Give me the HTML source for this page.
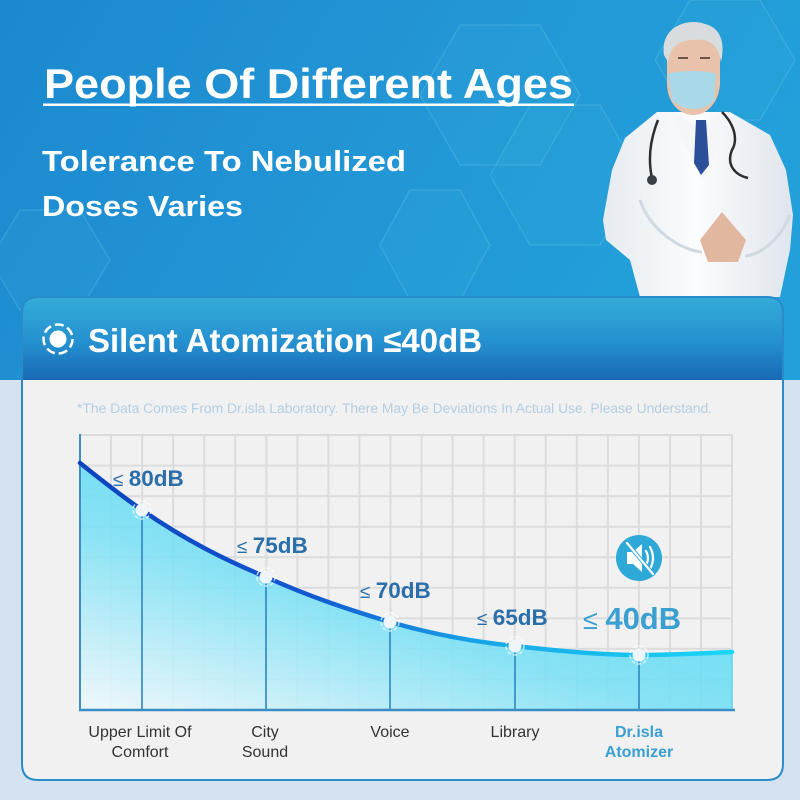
<!DOCTYPE html>
<html><head><meta charset="utf-8"><style>
html,body{margin:0;padding:0;width:800px;height:800px;overflow:hidden;background:#d4e3ef}
svg{display:block}
text{font-family:"Liberation Sans",Arial,sans-serif}
</style></head><body>
<svg width="800" height="800" viewBox="0 0 800 800" xmlns="http://www.w3.org/2000/svg">
<defs>
<linearGradient id="bg" x1="0" y1="0" x2="1" y2="0.3">
<stop offset="0" stop-color="#1b88cf"/><stop offset="0.55" stop-color="#2396d5"/><stop offset="1" stop-color="#22a0da"/>
</linearGradient>
<linearGradient id="hdr" x1="0" y1="0" x2="0" y2="1">
<stop offset="0" stop-color="#33abda"/><stop offset="0.55" stop-color="#2590d0"/><stop offset="1" stop-color="#1869b4"/>
</linearGradient>
<linearGradient id="fillg" x1="0.75" y1="0.15" x2="0.05" y2="1">
<stop offset="0" stop-color="#4fd6f3"/><stop offset="0.5" stop-color="#78e0f5"/><stop offset="1" stop-color="#eaf7fc"/>
</linearGradient>
<linearGradient id="strokeg" x1="80" y1="0" x2="732" y2="0" gradientUnits="userSpaceOnUse">
<stop offset="0" stop-color="#0b43bd"/><stop offset="0.35" stop-color="#1258d2"/><stop offset="0.62" stop-color="#17a6e8"/><stop offset="1" stop-color="#1ad6f7"/>
</linearGradient>
<linearGradient id="coat" x1="0" y1="0" x2="1" y2="0">
<stop offset="0" stop-color="#e6ebf0"/><stop offset="0.5" stop-color="#fbfcfd"/><stop offset="1" stop-color="#dfe5ec"/>
</linearGradient>
</defs>

<!-- background -->
<rect x="0" y="0" width="800" height="380" fill="url(#bg)"/>
<rect x="0" y="380" width="800" height="420" fill="#d4e3ef"/>
<g fill="#3fb3e2" fill-opacity="0.12" stroke="#6fd0f0" stroke-opacity="0.25" stroke-width="1.5">
<polygon points="460,25 540,25 580,95 540,165 460,165 420,95"/>
<polygon points="530,105 600,105 640,175 600,245 530,245 490,175"/>
<polygon points="410,190 460,190 490,245 460,300 410,300 380,245"/>
<polygon points="690,0 760,0 795,60 760,120 690,120 655,60"/>
<polygon points="20,210 80,210 110,260 80,310 20,310 -10,260"/>
</g>

<!-- doctor (simplified) -->
<g>
<path d="M657,112 L730,112 L770,135 L786,170 L793,215 L790,250 L780,297 L640,297 L630,260 L606,240 L603,220 L612,170 L625,138 Z" fill="url(#coat)"/>
<path d="M672,112 L700,128 L722,112 L728,125 L702,180 L676,125 Z" fill="#f4f6f8"/>
<path d="M696,120 L706,120 L709,165 L701,175 L694,163 Z" fill="#2b4f98"/>
<path d="M658,120 C650,140 648,160 652,178" stroke="#2a2e33" stroke-width="2.5" fill="none"/>
<circle cx="652" cy="180" r="5" fill="#3a3f45"/>
<path d="M722,112 C735,125 738,140 732,150 C726,165 735,175 748,178" stroke="#2a2e33" stroke-width="2.5" fill="none"/>
<path d="M640,200 C650,230 680,250 702,252 M790,215 C780,240 760,255 745,256" stroke="#d0d8e0" stroke-width="3" fill="none"/>
<path d="M700,240 L722,212 L746,240 L738,262 L708,262 Z" fill="#e2b7a0"/>
<path d="M667,40 C667,20 715,18 720,42 L720,85 C718,105 705,115 694,115 C680,115 668,104 667,85 Z" fill="#e8c2aa"/>
<path d="M664,55 C660,25 690,18 705,24 C722,28 725,45 721,62 C718,45 710,38 694,40 C680,40 670,46 668,62 Z" fill="#d9dcdf"/>
<path d="M668,74 C680,70 708,70 716,74 L714,100 C705,112 684,112 672,100 Z" fill="#a9d8e8"/>
<path d="M678,58 L688,58 M700,58 L710,58" stroke="#6b5446" stroke-width="2"/>
</g>

<!-- titles -->
<text x="44" y="98" font-size="42" font-weight="bold" fill="#ffffff" textLength="529" lengthAdjust="spacingAndGlyphs">People Of Different Ages</text>
<rect x="43" y="103.5" width="531" height="2.5" fill="#ffffff"/>
<text x="42" y="171" font-size="29" font-weight="bold" fill="#ffffff" textLength="364" lengthAdjust="spacingAndGlyphs">Tolerance To Nebulized</text>
<text x="42" y="216" font-size="29" font-weight="bold" fill="#ffffff" textLength="201" lengthAdjust="spacingAndGlyphs">Doses Varies</text>

<!-- card -->
<path d="M22,380 L22,313 Q22,297 38,297 L767,297 Q783,297 783,313 L783,380 Z" fill="url(#hdr)"/>
<path d="M22,380 L22,764 Q22,780 38,780 L767,780 Q783,780 783,764 L783,380 Z" fill="#f1f1f1"/>
<path d="M22,313 Q22,297 38,297 L767,297 Q783,297 783,313 L783,764 Q783,780 767,780 L38,780 Q22,780 22,764 Z" fill="none" stroke="#2a8bcb" stroke-width="2"/>

<!-- header -->
<circle cx="58" cy="339" r="14.5" fill="none" stroke="#ffffff" stroke-width="2.5" stroke-dasharray="9 4"/>
<circle cx="58" cy="339" r="8.5" fill="#ffffff"/>
<text x="88" y="352" font-size="33" font-weight="bold" fill="#ffffff" textLength="394" lengthAdjust="spacingAndGlyphs">Silent Atomization ≤40dB</text>

<text x="77" y="413" font-size="13.5" fill="#b3cde2" textLength="635" lengthAdjust="spacingAndGlyphs">*The Data Comes From Dr.isla Laboratory. There May Be Deviations In Actual Use. Please Understand.</text>

<!-- grid -->
<g stroke="#dcdcdc" stroke-width="2">
<line x1="111.05" y1="435" x2="111.05" y2="710"/><line x1="142.1" y1="435" x2="142.1" y2="710"/><line x1="173.15" y1="435" x2="173.15" y2="710"/><line x1="204.2" y1="435" x2="204.2" y2="710"/><line x1="235.25" y1="435" x2="235.25" y2="710"/><line x1="266.3" y1="435" x2="266.3" y2="710"/><line x1="297.35" y1="435" x2="297.35" y2="710"/><line x1="328.4" y1="435" x2="328.4" y2="710"/><line x1="359.45" y1="435" x2="359.45" y2="710"/><line x1="390.5" y1="435" x2="390.5" y2="710"/><line x1="421.55" y1="435" x2="421.55" y2="710"/><line x1="452.6" y1="435" x2="452.6" y2="710"/><line x1="483.65" y1="435" x2="483.65" y2="710"/><line x1="514.7" y1="435" x2="514.7" y2="710"/><line x1="545.75" y1="435" x2="545.75" y2="710"/><line x1="576.8" y1="435" x2="576.8" y2="710"/><line x1="607.85" y1="435" x2="607.85" y2="710"/><line x1="638.9" y1="435" x2="638.9" y2="710"/><line x1="669.95" y1="435" x2="669.95" y2="710"/><line x1="701" y1="435" x2="701" y2="710"/><line x1="732" y1="435" x2="732" y2="710"/>
<line x1="80" y1="435" x2="733" y2="435"/><line x1="80" y1="465.6" x2="733" y2="465.6"/><line x1="80" y1="496.1" x2="733" y2="496.1"/><line x1="80" y1="526.7" x2="733" y2="526.7"/><line x1="80" y1="557.2" x2="733" y2="557.2"/><line x1="80" y1="587.8" x2="733" y2="587.8"/><line x1="80" y1="618.4" x2="733" y2="618.4"/><line x1="80" y1="648.9" x2="733" y2="648.9"/><line x1="80" y1="679.5" x2="733" y2="679.5"/>
</g>

<!-- area fill -->
<path d="M80,463 C100,479 120,495 142,510 C185,540 225,560 266,577 C310,597 350,610 390,622 C435,635 475,642 515,646 C560,651 600,655 639,655 C675,655 705,653 732,652 L732,710 L80,710 Z" fill="url(#fillg)" fill-opacity="0.88"/>

<!-- drop lines -->
<g stroke="#2f86c2" stroke-width="1.6">
<line x1="142" y1="512" x2="142" y2="710"/><line x1="266" y1="579" x2="266" y2="710"/><line x1="390" y1="624" x2="390" y2="710"/><line x1="515" y1="648" x2="515" y2="710"/><line x1="639" y1="657" x2="639" y2="710"/>
</g>

<!-- axes -->
<line x1="80" y1="434" x2="80" y2="711" stroke="#3b8ec6" stroke-width="2"/>
<line x1="79" y1="710" x2="735" y2="710" stroke="#3a8cc4" stroke-width="2.5"/>
<line x1="732" y1="652" x2="732" y2="709" stroke="#5fd6f2" stroke-width="1.5"/>

<!-- curve -->
<path d="M80,463 C100,479 120,495 142,510 C185,540 225,560 266,577 C310,597 350,610 390,622 C435,635 475,642 515,646 C560,651 600,655 639,655 C675,655 705,653 732,652" fill="none" stroke="url(#strokeg)" stroke-width="4.5" stroke-linecap="round"/>

<!-- markers -->
<g>
<circle cx="142" cy="510" r="9" fill="none" stroke="#ffffff" stroke-opacity="0.7" stroke-width="1.5" stroke-dasharray="4 2"/>
<circle cx="142" cy="510" r="6.5" fill="#eef6fb"/>
<circle cx="266" cy="577" r="9" fill="none" stroke="#ffffff" stroke-opacity="0.7" stroke-width="1.5" stroke-dasharray="4 2"/>
<circle cx="266" cy="577" r="6.5" fill="#eef6fb"/>
<circle cx="390" cy="622" r="9" fill="none" stroke="#ffffff" stroke-opacity="0.7" stroke-width="1.5" stroke-dasharray="4 2"/>
<circle cx="390" cy="622" r="6.5" fill="#eef6fb"/>
<circle cx="515" cy="646" r="9" fill="none" stroke="#ffffff" stroke-opacity="0.7" stroke-width="1.5" stroke-dasharray="4 2"/>
<circle cx="515" cy="646" r="6.5" fill="#eef6fb"/>
<circle cx="639" cy="655" r="9" fill="none" stroke="#ffffff" stroke-opacity="0.7" stroke-width="1.5" stroke-dasharray="4 2"/>
<circle cx="639" cy="655" r="6.5" fill="#eef6fb"/>
</g>

<!-- value labels -->
<g fill="#2a6eaa" font-weight="bold" font-size="22.5">
<text x="113" y="486"><tspan font-weight="normal" font-size="19">≤ </tspan><tspan>80dB</tspan></text>
<text x="237" y="553"><tspan font-weight="normal" font-size="19">≤ </tspan><tspan>75dB</tspan></text>
<text x="360" y="598"><tspan font-weight="normal" font-size="19">≤ </tspan><tspan>70dB</tspan></text>
<text x="477" y="625"><tspan font-weight="normal" font-size="19">≤ </tspan><tspan>65dB</tspan></text>
</g>
<text x="583" y="629" fill="#3a9fd1" font-weight="bold" font-size="31"><tspan font-weight="normal" font-size="27">≤ </tspan><tspan>40dB</tspan></text>

<!-- mute icon -->
<circle cx="639" cy="558" r="23" fill="#2ea8d6"/>
<g fill="#ffffff" stroke="none">
<rect x="627" y="552" width="6" height="12"/>
<polygon points="633,552 642,544 642,572 633,564"/>
</g>
<g fill="none" stroke="#ffffff" stroke-width="2.2" stroke-linecap="round">
<path d="M646,551 Q650,558 646,565"/>
<path d="M650,547 Q656,558 650,569"/>
<line x1="627" y1="543" x2="653" y2="574" stroke="#2ea8d6" stroke-width="4"/>
<line x1="627" y1="543" x2="653" y2="574"/>
</g>

<!-- x labels -->
<g font-size="16" fill="#333333" text-anchor="middle">
<text x="140" y="737">Upper Limit Of</text>
<text x="140" y="757">Comfort</text>
<text x="265" y="737">City</text>
<text x="265" y="757">Sound</text>
<text x="390" y="737">Voice</text>
<text x="515" y="737">Library</text>
</g>
<g font-size="16" fill="#3a9fd1" font-weight="bold" text-anchor="middle">
<text x="639" y="737">Dr.isla</text>
<text x="639" y="757">Atomizer</text>
</g>
</svg>
</body></html>
